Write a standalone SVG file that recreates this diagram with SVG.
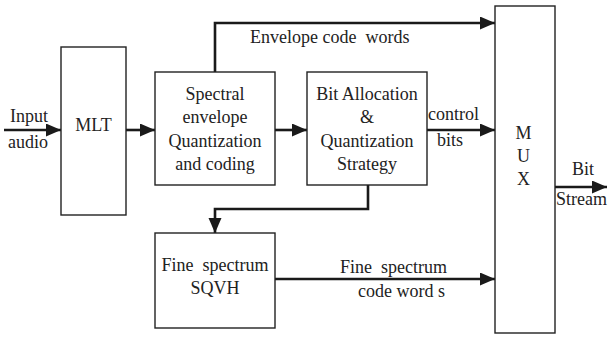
<svg xmlns="http://www.w3.org/2000/svg" width="609" height="337" viewBox="0 0 609 337">
<style>
.box{fill:#fff;stroke:#222;stroke-width:1.4}
.t{font-family:"Liberation Serif","Times New Roman","DejaVu Serif",serif;font-size:18px;fill:#222;white-space:pre}
.c{text-anchor:middle}
.conn{fill:none;stroke:#1a1a1a;stroke-width:2.6}
</style>
<defs>
<marker id="ah" markerUnits="userSpaceOnUse" markerWidth="16" markerHeight="14" refX="15" refY="6.5" orient="auto">
<path d="M0,0 L15,6.5 L0,13 z" fill="#1a1a1a"/>
</marker>
</defs>
<rect width="609" height="337" fill="#fff"/>
<g id="connectors">
<line class="conn" x1="4" y1="130" x2="61" y2="130" marker-end="url(#ah)"/>
<line class="conn" x1="126" y1="130" x2="155" y2="130" marker-end="url(#ah)"/>
<line class="conn" x1="275" y1="130" x2="307" y2="130" marker-end="url(#ah)"/>
<polyline class="conn" points="215,72 215,23 495,23" marker-end="url(#ah)"/>
<line class="conn" x1="427" y1="130" x2="495" y2="130" marker-end="url(#ah)"/>
<polyline class="conn" points="368,185 368,209 215,209 215,233" marker-end="url(#ah)"/>
<line class="conn" x1="275" y1="279" x2="495" y2="279" marker-end="url(#ah)"/>
<line class="conn" x1="555" y1="187" x2="607" y2="187" marker-end="url(#ah)"/>
<text class="t" x="250" y="43" xml:space="preserve">Envelope code  words</text>
<text class="t" x="428" y="120">control</text>
<text class="t" x="437" y="146">bits</text>
<text class="t" x="340" y="273" xml:space="preserve">Fine  spectrum</text>
<text class="t" x="358" y="297">code word s</text>
<text class="t" x="10" y="122">Input</text>
<text class="t" x="8" y="148">audio</text>
<text class="t" x="572" y="175">Bit</text>
<text class="t" x="556" y="205">Stream</text>
</g>
<g id="mlt">
<rect class="box" x="61" y="47" width="65" height="168"/>
<text class="t c" x="93.5" y="131">MLT</text>
</g>
<g id="spectral">
<rect class="box" x="155" y="72" width="120" height="113"/>
<text class="t c" x="215" y="100">Spectral</text>
<text class="t c" x="215" y="123">envelope</text>
<text class="t c" x="215" y="147">Quantization</text>
<text class="t c" x="215" y="170">and coding</text>
</g>
<g id="bitalloc">
<rect class="box" x="307" y="72" width="120" height="113"/>
<text class="t c" x="367" y="100">Bit Allocation</text>
<text class="t c" x="367" y="123">&amp;</text>
<text class="t c" x="367" y="147">Quantization</text>
<text class="t c" x="367" y="170">Strategy</text>
</g>
<g id="fine">
<rect class="box" x="155" y="233" width="120" height="95"/>
<text class="t c" x="215" y="271" xml:space="preserve">Fine  spectrum</text>
<text class="t c" x="215" y="294">SQVH</text>
</g>
<g id="mux">
<rect class="box" x="495" y="6" width="60" height="327"/>
<text class="t c" x="523.5" y="139">M</text>
<text class="t c" x="523.5" y="162">U</text>
<text class="t c" x="523.5" y="185">X</text>
</g>
</svg>
